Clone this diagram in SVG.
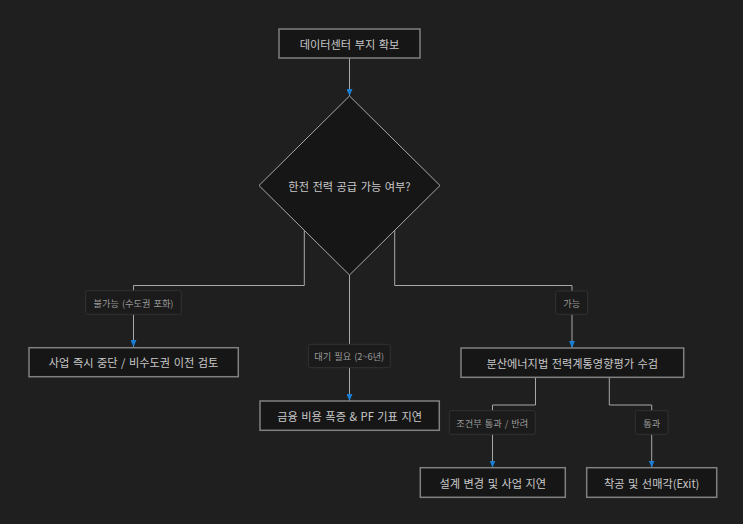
<svg xmlns="http://www.w3.org/2000/svg" width="743" height="524" viewBox="0 0 743 524">
<defs>
<style>
.node{fill:#161616;stroke:#808080;stroke-width:1.5}
.dia{fill:#161616;stroke:#a8a8a8;stroke-width:1}
.nt{font-family:"Noto Sans CJK KR","Noto Sans",sans-serif;font-size:11.2px;fill:#c8c8c8;text-anchor:middle;dominant-baseline:central;word-spacing:1px}
.edge{fill:none;stroke:#a8a8a8;stroke-width:1}
.lb{fill:#1b1b1b;stroke:#333;stroke-width:1}
.lt{font-family:"Noto Sans CJK KR","Noto Sans",sans-serif;font-size:9.2px;fill:#9a9a9a;text-anchor:middle;dominant-baseline:central;word-spacing:1px}
</style>
<marker id="ad" markerUnits="userSpaceOnUse" markerWidth="6" markerHeight="7" refX="3" refY="7" orient="0" viewBox="0 0 6 7">
<path d="M0,0 L6,0 L3,7 Z" fill="#1a7fd4"/>
</marker>
</defs>
<rect width="743" height="524" fill="#1f1f1f"/>
<g id="connectors">
<path class="edge" d="M349.5,58 V96" marker-end="url(#ad)"/>
<path class="edge" d="M304.3,230.3 V285.5 H133.5 V347" marker-end="url(#ad)"/>
<path class="edge" d="M349.5,275 V401" marker-end="url(#ad)"/>
<path class="edge" d="M394.7,230.3 V285.5 H572 V348" marker-end="url(#ad)"/>
<path class="edge" d="M535.5,377.5 V405 H492.5 V467.5" marker-end="url(#ad)"/>
<path class="edge" d="M609.3,377.5 V405 H651.7 V467.5" marker-end="url(#ad)"/>
<g id="label-impossible"><rect class="lb" x="85.7" y="290.7" width="95.6" height="23.6" rx="2"/><text class="lt" x="133.5" y="302.5">불가능 (수도권 포화)</text></g>
<g id="label-wait"><rect class="lb" x="308.3" y="344.3" width="82" height="23.4" rx="2"/><text class="lt" x="349.3" y="356">대기 필요 (2~6년)</text></g>
<g id="label-possible"><rect class="lb" x="555.7" y="291" width="32" height="23.3" rx="2"/><text class="lt" x="571.7" y="302.6">가능</text></g>
<g id="label-cond"><rect class="lb" x="449.3" y="410.7" width="86" height="23.6" rx="2"/><text class="lt" x="492.3" y="422.5">조건부 통과 / 반려</text></g>
<g id="label-pass"><rect class="lb" x="635.3" y="410.7" width="32.7" height="23.6" rx="2"/><text class="lt" x="651.7" y="422.5">통과</text></g>
</g>
<g id="n-site"><rect class="node" x="279" y="29" width="141" height="29"/><text class="nt" x="349.5" y="43.5">데이터센터 부지 확보</text></g>
<g id="n-power"><path class="dia" d="M349.5,96 L440,185.5 L349.5,275 L259,185.5 Z"/><text class="nt" x="349.5" y="185.5">한전 전력 공급 가능 여부?</text></g>
<g id="n-stop"><rect class="node" x="29" y="347.7" width="209.3" height="29"/><text class="nt" x="133.6" y="362.2">사업 즉시 중단 / 비수도권 이전 검토</text></g>
<g id="n-cost"><rect class="node" x="260" y="401" width="179.3" height="29.3"/><text class="nt" x="349.6" y="415.6">금융 비용 폭증 &amp; PF 기표 지연</text></g>
<g id="n-eval"><rect class="node" x="461" y="348" width="222.7" height="29.3"/><text class="nt" x="572.3" y="362.6">분산에너지법 전력계통영향평가 수검</text></g>
<g id="n-delay"><rect class="node" x="420.3" y="467.7" width="145" height="29.6"/><text class="nt" x="492.8" y="482.5">설계 변경 및 사업 지연</text></g>
<g id="n-exit"><rect class="node" x="586.7" y="467.7" width="130" height="29.6"/><text class="nt" x="651.7" y="482.5">착공 및 선매각(Exit)</text></g>
</svg>
